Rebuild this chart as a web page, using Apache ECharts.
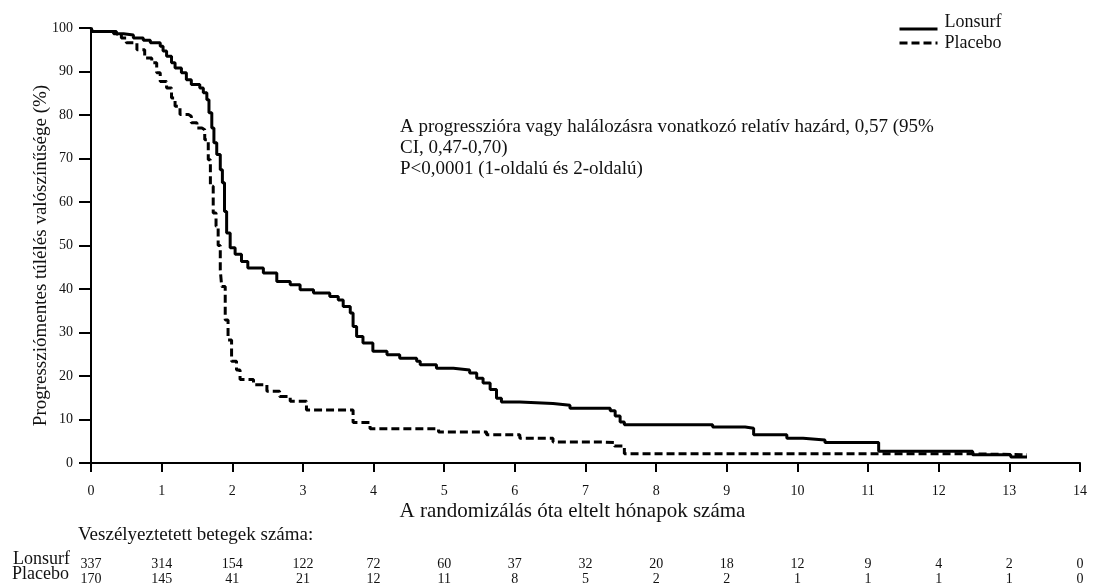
<!DOCTYPE html>
<html><head><meta charset="utf-8">
<script src="https://cdn.jsdelivr.net/npm/echarts@6/dist/echarts.min.js"></script>
<style>html,body{margin:0;padding:0;background:#fff}#c{width:1093px;height:588px}</style>
</head><body><div id="c"></div>
<script>
// ---- data ----
const monthTicks = [0,1,2,3,4,5,6,7,8,9,10,11,12,13,14];
const survTicks = [0,10,20,30,40,50,60,70,80,90,100];
const seriesNames = ['Lonsurf', 'Placebo'];

const lonsurfMonths = [0,0.02,0.32,0.46,0.6,0.74,0.84,0.98,1.02,1.07,1.14,1.19,1.28,1.35,1.42,1.54,1.59,1.64,1.67,1.71,1.74,1.78,1.83,1.86,1.89,1.92,1.97,2.04,2.13,2.22,2.44,2.63,2.82,2.96,3.15,3.38,3.5,3.57,3.67,3.71,3.76,3.85,3.99,4.19,4.37,4.61,4.66,4.89,5.13,5.36,5.46,5.55,5.65,5.74,5.81,6.07,6.54,6.78,7.35,7.42,7.49,7.55,8.8,9.26,9.38,9.85,10.08,10.39,11.15,12.48,13.02,13.25];
const lonsurfSurv   = [100,99.2,98.7,98.4,97.7,97.2,96.6,95.8,94.7,93.5,92.0,90.8,89.7,88.1,87.0,86.2,85.1,83.5,80.5,77.0,73.6,70.9,67.4,64.4,57.8,52.9,49.5,48.0,46.3,44.8,43.7,41.7,41.0,39.8,39.1,38.3,37.5,36.0,34.5,31.4,29.1,27.6,25.7,24.9,24.1,23.4,22.6,21.8,21.4,20.7,19.5,18.4,16.9,14.9,14.0,13.7,13.3,12.6,12.0,10.8,9.4,8.8,8.3,8.0,6.5,5.7,5.3,4.7,2.7,1.9,1.4,1.4];

const placeboMonths = [0,0.02,0.36,0.43,0.5,0.65,0.76,0.86,0.93,0.98,1.07,1.14,1.19,1.26,1.38,1.42,1.5,1.57,1.61,1.66,1.69,1.73,1.77,1.8,1.83,1.85,1.9,1.94,1.99,2.06,2.11,2.3,2.49,2.67,2.82,3.05,3.71,3.95,4.92,5.6,6.07,6.54,7.25,7.41,7.55,12.48,13.25];
const placeboSurv   = [100,99.2,98.6,97.7,96.6,95.0,93.1,92.0,89.7,87.7,86.2,83.9,82.0,80.1,79.7,78.2,77.0,76.6,74.3,69.7,63.6,57.5,54.4,50.0,44.4,40.6,32.9,28.3,23.4,21.4,19.2,18.0,16.5,15.3,14.2,12.2,9.3,7.9,7.1,6.5,5.7,4.8,4.7,3.9,2.1,1.9,1.9];

const riskLonsurf = [337,314,154,122,72,60,37,32,20,18,12,9,4,2,0];
const riskPlacebo = [170,145,41,21,12,11,8,5,2,2,1,1,1,1,0];

const annotationLines = [
  'A progresszióra vagy halálozásra vonatkozó relatív hazárd, 0,57 (95%',
  'CI, 0,47-0,70)',
  'P<0,0001 (1-oldalú és 2-oldalú)'
];
const xTitle = 'A randomizálás óta eltelt hónapok száma';
const yTitle = 'Progressziómentes túlélés valószínűsége (%)';
const riskTitle = 'Veszélyeztetett betegek száma:';

// ---- chart ----
const FONT = '"Liberation Serif", "Times New Roman", serif';
const INK = '#111';
const chart = echarts.init(document.getElementById('c'), null, {renderer: 'canvas'});

const riskAxis = (idx, arr) => ({
  type: 'value', gridIndex: idx, min: 0, max: 14, interval: 1,
  axisLine: {show: false}, axisTick: {show: false}, splitLine: {show: false},
  axisLabel: {margin: 0, fontFamily: FONT, fontSize: 14, lineHeight: 14, color: INK,
    formatter: v => { const i = monthTicks.indexOf(Math.round(v)); return i >= 0 ? String(arr[i]) : ''; }}
});

const legendBase = {orient: 'vertical', left: 898, padding: 0, itemWidth: 38, itemHeight: 14,
  itemStyle: {opacity: 0}, lineStyle: {width: 3}};

chart.setOption({
  animation: false,
  backgroundColor: '#fff',
  grid: [
    {left: 91, right: 13, top: 28, height: 435},
    {left: 91, right: 13, top: 556, height: 1},
    {left: 91, right: 13, top: 571, height: 1}
  ],
  xAxis: [
    {type: 'value', gridIndex: 0, min: 0, max: 14, interval: 1,
     name: xTitle, nameLocation: 'middle', nameGap: 38, nameMoveOverlap: false,
     nameTextStyle: {fontFamily: FONT, fontSize: 21, color: INK, padding: [0, 26, 0, 0]},
     axisLine: {lineStyle: {color: '#000', width: 2}},
     axisTick: {length: 9, lineStyle: {color: '#000', width: 2}},
     splitLine: {show: false},
     axisLabel: {margin: 21, fontFamily: FONT, fontSize: 14, color: INK,
       formatter: v => String(monthTicks[monthTicks.indexOf(Math.round(v))])}},
    riskAxis(1, riskLonsurf),
    riskAxis(2, riskPlacebo)
  ],
  yAxis: [
    {type: 'value', gridIndex: 0, min: 0, max: 100, interval: 10,
     name: yTitle, nameLocation: 'middle', nameGap: 40, nameMoveOverlap: false,
     nameTextStyle: {fontFamily: FONT, fontSize: 19, color: INK, padding: [0, 20, 0, 0]},
     axisLine: {show: true, lineStyle: {color: '#000', width: 2}},
     axisTick: {show: true, length: 12, lineStyle: {color: '#000', width: 2}},
     splitLine: {show: false},
     axisLabel: {margin: 18, fontFamily: FONT, fontSize: 14, color: INK,
       formatter: v => String(survTicks[survTicks.indexOf(Math.round(v))])}},
    {type: 'value', gridIndex: 1, show: false},
    {type: 'value', gridIndex: 2, show: false}
  ],
  legend: [
    Object.assign({}, legendBase, {data: [seriesNames[0]], top: 13,
     formatter: '{up|{name}}',
     textStyle: {fontFamily: FONT, fontSize: 18, color: INK,
       rich: {up: {fontFamily: FONT, fontSize: 18, color: INK, padding: [0, 0, 14, 2]}}}}),
    Object.assign({}, legendBase, {data: [seriesNames[1]], top: 34,
     textStyle: {fontFamily: FONT, fontSize: 18, color: INK, padding: [0, 0, 0, 2]}})
  ],
  series: [
    {name: seriesNames[0], type: 'line', step: 'end', symbol: 'none',
     xAxisIndex: 0, yAxisIndex: 0,
     lineStyle: {color: '#000', width: 3, type: 'solid'},
     itemStyle: {color: '#000'},
     data: lonsurfMonths.map((m, i) => [m, lonsurfSurv[i]])},
    {name: seriesNames[1], type: 'line', step: 'end', symbol: 'none',
     xAxisIndex: 0, yAxisIndex: 0,
     lineStyle: {color: '#000', width: 3, type: [8, 4]},
     itemStyle: {color: '#000'},
     data: placeboMonths.map((m, i) => [m, placeboSurv[i]])}
  ],
  graphic: [
    {type: 'text', left: 400, top: 117,
     style: {text: annotationLines.join('\n'), font: '19px ' + FONT, fill: INK, lineHeight: 21}},
    {type: 'text', left: 78, top: 526,
     style: {text: riskTitle, font: '19px ' + FONT, fill: INK}},
    {type: 'text', left: 13, top: 550,
     style: {text: seriesNames[0], font: '18px ' + FONT, fill: INK}},
    {type: 'text', left: 12, top: 565,
     style: {text: seriesNames[1], font: '18px ' + FONT, fill: INK}}
  ]
});
</script>
</body></html>
